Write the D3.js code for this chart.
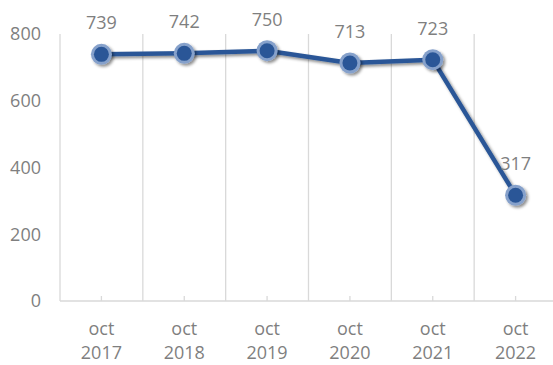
<!DOCTYPE html>
<html>
<head>
<meta charset="utf-8">
<script src="https://cdn.jsdelivr.net/npm/d3@7"></script>
<style>
  html, body { margin: 0; padding: 0; background: #fff; }
  svg text { font-family: "Open Sans", "Noto Sans", sans-serif; fill: #7f7f7f; }
</style>
</head>
<body>
<svg id="chart" width="553" height="365"></svg>
<script>
// Monthly figures for October of each year
const months = ["oct", "oct", "oct", "oct", "oct", "oct"];
const years = ["2017", "2018", "2019", "2020", "2021", "2022"];
const values = [739, 742, 750, 713, 723, 317];
const yTicks = [0, 200, 400, 600, 800];

const svg = d3.select("#chart");
const margin = { left: 60, right: -4, top: 34, bottom: 64 };
const W = 553, H = 365;

const x = d3.scaleBand()
  .domain(d3.range(values.length))
  .range([margin.left, W - margin.right])
  .paddingInner(0).paddingOuter(0);

const y = d3.scaleLinear()
  .domain([0, 800])
  .range([H - margin.bottom, margin.top]);

const defs = svg.append("defs");
const shadow = defs.append("filter").attr("id", "shadow")
  .attr("x", "-50%").attr("y", "-50%").attr("width", "200%").attr("height", "200%");
shadow.append("feDropShadow")
  .attr("dx", 2).attr("dy", 2).attr("stdDeviation", 1.8)
  .attr("flood-color", "#000").attr("flood-opacity", 0.45);

// vertical separators between categories
const bounds = d3.range(values.length + 1).map(i => margin.left + i * x.bandwidth());
svg.append("g").selectAll("line").data(bounds.slice(0, values.length)).join("line")
  .attr("x1", d => d).attr("x2", d => d)
  .attr("y1", y(800)).attr("y2", y(0))
  .attr("stroke", "#d9d9d9").attr("stroke-width", 1.3);

// x axis line with inner ticks at category centres
svg.append("line")
  .attr("x1", margin.left).attr("x2", W)
  .attr("y1", y(0)).attr("y2", y(0))
  .attr("stroke", "#d9d9d9").attr("stroke-width", 1.3);
svg.append("g").selectAll("line").data(d3.range(values.length)).join("line")
  .attr("x1", i => x(i) + x.bandwidth() / 2).attr("x2", i => x(i) + x.bandwidth() / 2)
  .attr("y1", y(0) - 5).attr("y2", y(0))
  .attr("stroke", "#d9d9d9").attr("stroke-width", 1.3);

// y axis labels
svg.append("g").selectAll("text").data(yTicks).join("text")
  .attr("x", 41).attr("y", d => y(d))
  .attr("dy", "0.35em").attr("text-anchor", "end")
  .attr("font-size", 18).text(d => d);

// x axis labels (two lines)
const xl = svg.append("g").selectAll("text").data(d3.range(values.length)).join("text")
  .attr("text-anchor", "middle")
  .attr("font-size", 18);
xl.append("tspan")
  .attr("x", i => x(i) + x.bandwidth() / 2).attr("y", 335)
  .text(i => months[i]);
xl.append("tspan")
  .attr("x", i => x(i) + x.bandwidth() / 2).attr("y", 359)
  .text(i => years[i]);

// line
const line = d3.line()
  .x((d, i) => x(i) + x.bandwidth() / 2)
  .y(d => y(d));
svg.append("path").datum(values)
  .attr("d", line)
  .attr("fill", "none")
  .attr("stroke", "#2b5797")
  .attr("stroke-width", 4.5)
  .attr("stroke-linejoin", "round")
  .attr("filter", "url(#shadow)");

// markers
const pts = svg.append("g").selectAll("g").data(values).join("g")
  .attr("transform", (d, i) => `translate(${x(i) + x.bandwidth() / 2},${y(d)})`)
  .attr("filter", "url(#shadow)");
pts.append("circle").attr("r", 10.5).attr("fill", "#86a1cb");
pts.append("circle").attr("r", 7.5).attr("fill", "#2b5797");

// data labels
svg.append("g").selectAll("text").data(values).join("text")
  .attr("x", (d, i) => x(i) + x.bandwidth() / 2)
  .attr("y", d => y(d) - 25)
  .attr("text-anchor", "middle")
  .attr("font-size", 18)
  .text(d => d);
</script>
</body>
</html>
